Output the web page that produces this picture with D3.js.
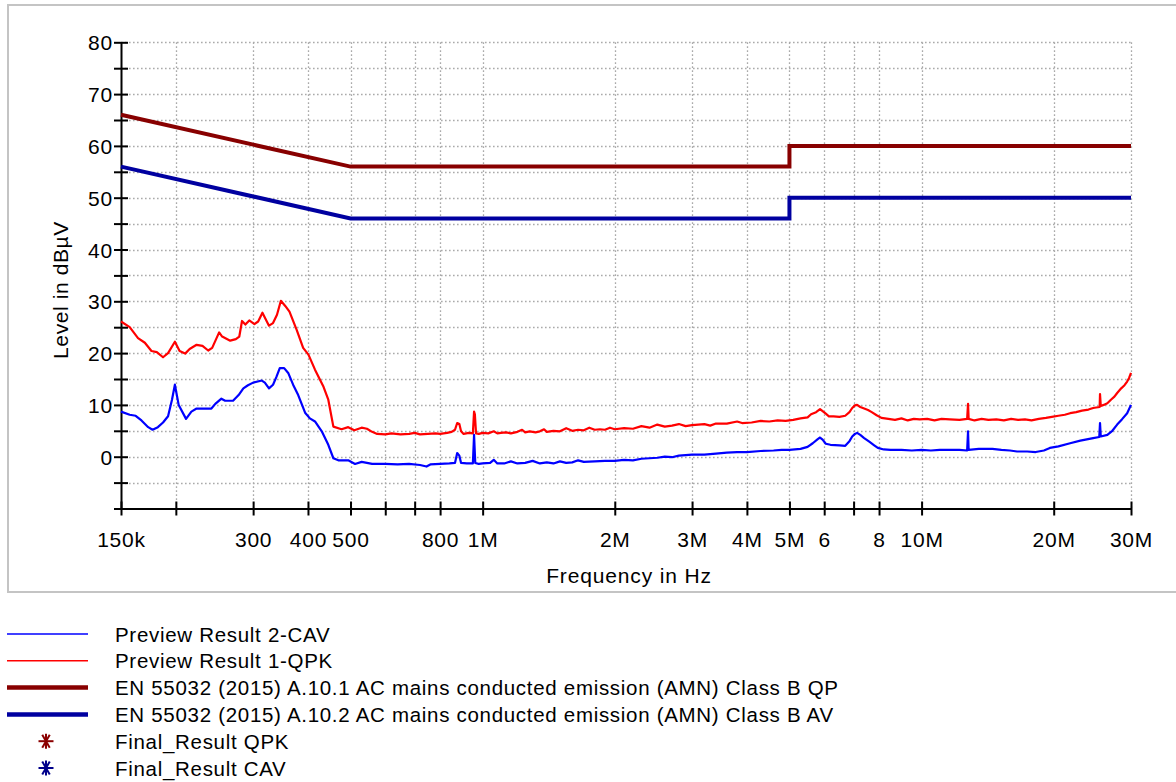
<!DOCTYPE html>
<html>
<head>
<meta charset="utf-8">
<script src="https://cdn.jsdelivr.net/npm/d3@7"></script>
<style>
  html, body { margin: 0; padding: 0; background: #ffffff; }
  svg { display: block; font-family: "Liberation Sans", Arial, sans-serif; }
</style>
</head>
<body>
<svg id="chart" width="1176" height="782"></svg>
<script>
// ---------- DATA ----------
// frequencies in kHz, levels in dBµV
const qpkFreq = [150,157,164,170,176,181,187,192,199,204,210,215,223,230,237,242,251,255,266,274,279,283,288,294,302,308,315,326,333,340,347,355,363,377,390,401,415,434,445,457,477,494,510,530,
545,560,575,600,620,650,680,700,720,750,780,800,830,850,865,875,885,893,905,930,950,956,960,966,980,1000,1030,1060,1080,1100,1130,1160,1200,1230,1250,1280,1320,1350,1380,1400,1450,1500,1550,1600,1650,1700,1750,1800,1850,1900,1950,2000,2100,2200,2300,2400,2500,2600,2700,2800,2900,3000,3200,3300,3400,3600,3800,3900,4100,4300,4500,4700,4900,5100,5300,5500,5600,5750,5870,5950,6050,6150,6300,6500,6700,6850,6950,7050,7130,7250,7400,7550,7700,7900,8100,8400,8700,9000,9300,9600,9900,10300,10700,11100,11600,12200,12700,12760,12800,13200,13700,14200,14800,15400,16000,16600,17200,17800,18500,19200,19800,20500,21200,21800,22500,23200,24000,24600,25000,25450,25500,25600,26000,26500,27000,27500,27900,28500,29000,29400,29700,30000];
const qpkLevel = [26.1,25.0,22.9,22.0,20.4,20.2,19.2,20.0,22.2,20.4,19.9,20.8,21.6,21.4,20.5,21.0,24.0,23.2,22.4,22.7,23.2,26.2,25.5,26.3,25.6,26.1,27.8,25.3,25.8,27.4,30.1,29.1,28.0,24.5,21.0,19.7,16.8,13.5,11.0,5.8,5.3,5.7,5.1,5.6,
5.4,4.8,4.4,4.3,4.5,4.3,4.4,4.6,4.3,4.4,4.5,4.4,4.6,4.8,5.2,6.5,6.3,4.9,4.4,4.6,4.5,8.7,8.2,4.5,4.4,4.6,4.5,4.9,4.5,4.6,4.7,4.5,4.8,5.2,4.7,4.9,4.7,4.9,5.3,4.8,5.0,4.9,5.5,5.0,5.2,5.1,5.6,5.2,5.3,5.2,5.6,5.3,5.5,5.4,5.9,5.6,6.2,5.8,6.0,6.3,5.9,6.1,6.3,6.0,6.4,6.4,6.8,6.5,6.6,6.9,6.8,7.0,6.9,7.1,7.4,7.6,8.2,8.6,9.2,8.8,8.3,7.8,7.8,7.7,7.9,8.6,9.4,9.9,10.0,9.6,9.3,9.0,8.6,8.0,7.5,7.3,7.1,7.4,7.0,7.3,7.2,7.3,7.0,7.3,7.2,7.1,7.3,10.2,7.3,7.0,7.3,7.1,7.2,7.0,7.3,7.1,7.2,7.0,7.3,7.5,7.7,7.9,8.1,8.4,8.6,8.9,9.1,9.4,9.5,9.6,12.1,9.8,10.0,10.3,11.0,11.6,12.3,13.2,13.8,14.5,15.2,16.2];

const cavFreq = [150,157,162,167,173,177,182,187,192,196,199,203,211,217,223,241,246,254,259,270,278,285,292,300,314,319,326,333,339,345,353,361,370,380,394,404,415,430,445,457,469,494,512,530,
545,560,600,640,680,720,745,760,800,840,865,875,885,893,920,950,956,962,980,1000,1040,1060,1080,1120,1160,1200,1250,1300,1350,1400,1450,1500,1550,1600,1650,1700,1800,1900,2000,2100,2200,2300,2400,2500,2600,2700,2800,2900,3000,3200,3400,3600,3800,4000,4300,4600,4800,5000,5300,5500,5650,5800,5870,5950,6050,6200,6500,6700,6850,6950,7050,7130,7250,7400,7600,7800,7950,8200,8500,9000,9500,10000,10500,11000,11600,12200,12700,12760,12800,13500,14500,15200,15900,16500,17400,18200,19000,19600,20500,21800,23000,24600,25400,25500,25600,26500,27200,27900,28600,29400,30000];
const cavLevel = [8.7,8.1,7.9,7.0,5.7,5.2,5.7,6.6,7.8,11.0,13.9,10.0,7.3,8.7,9.3,9.3,10.2,11.2,10.8,10.8,11.9,13.2,13.8,14.3,14.7,14.3,13.2,13.9,15.4,17.1,17.1,16.1,13.9,11.9,8.5,7.4,6.8,4.9,2.3,-0.3,-0.7,-0.7,-1.4,-1.0,
-1.2,-1.4,-1.4,-1.5,-1.4,-1.6,-1.9,-1.5,-1.4,-1.3,-1.2,0.7,0.2,-1.2,-1.3,-1.3,4.2,-1.2,-1.4,-1.3,-1.2,-0.6,-1.3,-1.3,-0.9,-1.3,-1.2,-0.8,-1.3,-1.1,-1.3,-0.9,-1.2,-1.1,-0.7,-1.0,-0.9,-0.8,-0.8,-0.6,-0.7,-0.4,-0.3,-0.2,0.0,-0.1,0.2,0.3,0.4,0.4,0.6,0.8,0.9,0.9,1.1,1.2,1.3,1.3,1.5,1.9,2.6,3.4,3.7,3.3,2.5,2.3,2.2,2.1,3.0,3.9,4.4,4.6,4.2,3.6,2.9,2.2,1.7,1.4,1.3,1.3,1.2,1.3,1.2,1.3,1.3,1.3,1.2,4.9,1.3,1.5,1.5,1.3,1.2,1.0,1.0,0.9,1.2,1.7,2.0,2.6,3.1,3.6,3.8,6.5,3.9,4.2,5.0,6.2,7.2,8.4,10.0];

// limit lines (kHz, dBµV)
const limitQPFreq  = [150, 500, 5000, 5000, 30000];
const limitQPLevel = [66, 56, 56, 60, 60];
const limitAVFreq  = [150, 500, 5000, 5000, 30000];
const limitAVLevel = [56, 46, 46, 50, 50];

// axis ticks
const xTickValues = [150,200,300,400,500,600,700,800,1000,2000,3000,4000,5000,6000,7000,8000,10000,20000,30000];
const xTickLabels = ["150k","","300","400","500","","","800","1M","2M","3M","4M","5M","6","","8","10M","20M","30M"];
const yTickValues = [-10,-5,0,5,10,15,20,25,30,35,40,45,50,55,60,65,70,75,80];
const yTickLabels = ["","","0","","10","","20","","30","","40","","50","","60","","70","","80"];

const legendLabels = [
  "Preview Result 2-CAV",
  "Preview Result 1-QPK",
  "EN 55032 (2015) A.10.1 AC mains conducted emission (AMN) Class B QP",
  "EN 55032 (2015) A.10.2 AC mains conducted emission (AMN) Class B AV",
  "Final_Result QPK",
  "Final_Result CAV"
];

// ---------- DRAW ----------
const svg = d3.select("#chart");
const pLeft = 121, pRight = 1131, pTop = 42.3, pBottom = 508.5;

const x = d3.scaleLog().domain([150, 30000]).range([pLeft, pRight]);
const y = d3.scaleLinear().domain([-10, 80]).range([pBottom, pTop]);

// outer frame
svg.append("rect").attr("x", 8).attr("y", 5).attr("width", 1180).attr("height", 587)
  .attr("fill", "none").attr("stroke", "#c4c4c4").attr("stroke-width", 2);

// grid
const grid = svg.append("g").attr("stroke", "#aaaaaa").attr("stroke-width", 1.3)
  .attr("stroke-dasharray", "1.6,2.4");
grid.selectAll("line.h").data(yTickValues.filter(v => v > -10)).join("line")
  .attr("x1", pLeft).attr("x2", pRight)
  .attr("y1", d => Math.round(y(d)) + 0.5).attr("y2", d => Math.round(y(d)) + 0.5);
grid.selectAll("line.v").data(xTickValues.filter(v => v > 150)).join("line")
  .attr("y1", pTop).attr("y2", pBottom)
  .attr("x1", d => Math.round(x(d)) + 0.5).attr("x2", d => Math.round(x(d)) + 0.5);

// axes
const yAxis = d3.axisLeft(y).tickValues(yTickValues).tickSizeInner(7).tickSizeOuter(0).tickPadding(4)
  .tickFormat((d, i) => yTickLabels[i]);
const gy = svg.append("g").attr("transform", `translate(${pLeft},0)`).call(yAxis);
const xAxis = d3.axisBottom(x).tickValues(xTickValues).tickSizeInner(7).tickSizeOuter(0)
  .tickFormat((d, i) => xTickLabels[i]);
const gx = svg.append("g").attr("transform", `translate(0,${pBottom})`).call(xAxis);

[gx, gy].forEach(g => {
  g.select(".domain").attr("stroke", "#000").attr("stroke-width", 2);
  g.selectAll(".tick line").attr("stroke", "#000").attr("stroke-width", 2);
  g.selectAll(".tick text").attr("fill", "#000").style("font-size", "21px")
    .style("letter-spacing", "0.8px")
    .style("font-family", "'Liberation Sans', Arial, sans-serif");
});
gy.selectAll(".tick line").attr("x1", 7);
gx.selectAll(".tick line").attr("y1", -7);
gx.selectAll(".tick text").attr("y", 38).attr("dy", 0);
gy.selectAll(".tick text").attr("x", -8).attr("dy", "0.36em");

// axis titles
svg.append("text").attr("x", 629).attr("y", 583).attr("text-anchor", "middle")
  .style("font-size", "21px").style("letter-spacing", "0.85px").attr("fill", "#000").text("Frequency in Hz");
svg.append("text").attr("transform", "translate(68,290) rotate(-90)").attr("text-anchor", "middle")
  .style("font-size", "21px").style("letter-spacing", "0.6px").attr("fill", "#000").text("Level in dBµV");

// series
const line = d3.line().x(d => x(d[0])).y(d => y(d[1]));
const zip = (f, v) => f.map((d, i) => [d, v[i]]);

svg.append("path").datum(zip(limitQPFreq, limitQPLevel)).attr("d", line)
  .attr("fill", "none").attr("stroke", "#880000").attr("stroke-width", 4);
svg.append("path").datum(zip(limitAVFreq, limitAVLevel)).attr("d", line)
  .attr("fill", "none").attr("stroke", "#0000a0").attr("stroke-width", 4);
svg.append("path").datum(zip(qpkFreq, qpkLevel)).attr("d", line)
  .attr("fill", "none").attr("stroke", "#ff0000").attr("stroke-width", 2.2).attr("stroke-linejoin", "round");
svg.append("path").datum(zip(cavFreq, cavLevel)).attr("d", line)
  .attr("fill", "none").attr("stroke", "#0000ff").attr("stroke-width", 2.2).attr("stroke-linejoin", "round");

// legend
const legendStyles = [
  {type: "line", color: "#0000ff", w: 1.6},
  {type: "line", color: "#ff0000", w: 1.6},
  {type: "line", color: "#880000", w: 4.5},
  {type: "line", color: "#0000a0", w: 4.5},
  {type: "star", color: "#8b0000"},
  {type: "star", color: "#00008b"}
];
const leg = svg.append("g");
const rowY = i => 634 + i * 26.8;
legendLabels.forEach((lab, i) => {
  const s = legendStyles[i];
  const cy = rowY(i);
  if (s.type === "line") {
    leg.append("line").attr("x1", 7).attr("x2", 88).attr("y1", cy).attr("y2", cy)
      .attr("stroke", s.color).attr("stroke-width", s.w);
  } else {
    const r = 7.5;
    const g = leg.append("g").attr("transform", `translate(46,${cy})`).attr("stroke", s.color).attr("stroke-width", 2);
    [0, 60, 90, 120].forEach(a => {
      const rad = a * Math.PI / 180;
      g.append("line").attr("x1", -r * Math.cos(rad)).attr("y1", -r * Math.sin(rad))
        .attr("x2", r * Math.cos(rad)).attr("y2", r * Math.sin(rad));
    });
  }
  leg.append("text").attr("x", 115).attr("y", cy + 7.5).style("font-size", "20.5px")
    .style("letter-spacing", "0.7px").attr("fill", "#000").text(lab);
});
</script>
</body>
</html>
